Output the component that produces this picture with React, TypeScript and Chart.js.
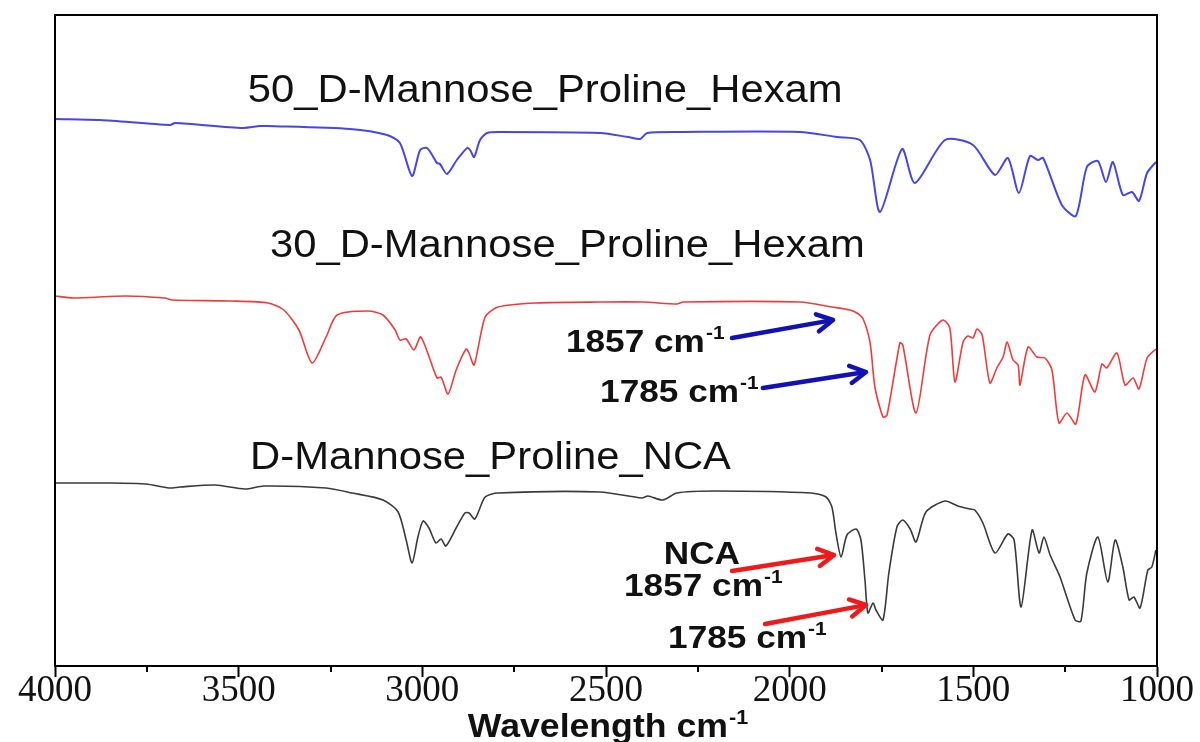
import React, { useEffect, useRef } from 'react';
import { Chart, registerables } from 'chart.js';

Chart.register(...registerables);

// ---------- data (wavenumber cm-1, transmittance a.u., curves offset) ----------
const wave50 = [4000, 3877, 3687, 3673, 3488, 3442, 3423, 3197, 3096, 3061, 3028, 3006, 2987, 2960, 2952, 2933, 2906, 2878, 2870, 2859, 2843, 2824, 2789, 2516, 2440, 2407, 2388, 2290, 1972, 1871, 1809, 1781, 1754, 1694, 1659, 1577, 1501, 1441, 1406, 1376, 1346, 1324, 1310, 1259, 1221, 1191, 1161, 1139, 1120, 1093, 1068, 1049, 1027, 1003];
const trans50 = [109.4, 109.2, 108.2, 108.6, 107.6, 108, 108, 107.4, 106.2, 104.6, 98, 103.2, 103.6, 100.6, 100.4, 98.4, 101.2, 103.6, 103.2, 101.8, 105.2, 106.6, 106.8, 106.6, 105.8, 105.4, 106.6, 106.8, 106.8, 105.8, 105.2, 101.2, 90.8, 103.4, 96.6, 105.2, 104.2, 98.2, 101.6, 94.6, 102, 101.2, 101.6, 92.2, 90, 99.8, 101, 96.8, 100.8, 94.2, 94.8, 93, 98.6, 100.8];

const wave30 = [4000, 3951, 3807, 3701, 3681, 3524, 3420, 3377, 3336, 3300, 3262, 3232, 3148, 3107, 3074, 3061, 3044, 3023, 3004, 2960, 2949, 2930, 2908, 2881, 2873, 2859, 2829, 2794, 2691, 2516, 2399, 2307, 2290, 1972, 1885, 1836, 1817, 1800, 1781, 1768, 1746, 1735, 1700, 1692, 1656, 1618, 1583, 1564, 1550, 1528, 1515, 1501, 1490, 1476, 1455, 1436, 1419, 1408, 1392, 1378, 1373, 1351, 1327, 1305, 1286, 1267, 1245, 1221, 1196, 1169, 1150, 1137, 1109, 1087, 1065, 1049, 1027, 1003];
const trans30 = [74, 73.6, 74, 73.6, 73.2, 73, 72.6, 71.2, 67.2, 60.6, 65.8, 70.2, 71, 70.2, 67.2, 65.2, 65.4, 63.2, 65.8, 57.6, 57.8, 54.4, 59.2, 63.4, 62.6, 60.2, 69.8, 71.8, 72.6, 72.8, 72.8, 72.4, 72.8, 72.8, 71.8, 71.2, 70.6, 69.4, 64.6, 55.8, 49.8, 50.2, 64.6, 64.2, 50.6, 66.2, 69.2, 67.6, 56.8, 64.8, 66, 65.6, 67.4, 66.2, 56.6, 59.6, 61.8, 64.8, 61.2, 60.2, 56.2, 63.8, 61.8, 61.6, 59.2, 48.6, 50.6, 48.4, 58.2, 54.8, 60.4, 59.6, 62.6, 56.2, 57.6, 55.4, 61.6, 63.4];

const waveNCA = [4000, 3858, 3752, 3690, 3660, 3564, 3483, 3431, 3262, 3191, 3107, 3066, 3044, 3028, 3012, 2998, 2982, 2963, 2949, 2936, 2908, 2884, 2873, 2857, 2829, 2794, 2516, 2402, 2386, 2345, 2307, 2203, 1942, 1901, 1885, 1874, 1860, 1844, 1819, 1806, 1795, 1787, 1773, 1765, 1746, 1730, 1708, 1692, 1672, 1656, 1629, 1577, 1542, 1509, 1496, 1474, 1441, 1406, 1389, 1370, 1340, 1321, 1308, 1291, 1264, 1223, 1207, 1191, 1161, 1134, 1114, 1093, 1076, 1063, 1046, 1025, 1014, 1003];
const transNCA = [36.6, 36.6, 36.4, 35.6, 35.8, 36.2, 35.4, 36, 35.6, 34.6, 33.2, 30.8, 25.2, 20.6, 25.8, 29, 27.6, 24.6, 25.4, 24, 27.6, 30.6, 30.6, 29.4, 33.8, 34.6, 34.8, 33.6, 34, 33.2, 34.6, 35, 34.6, 33.8, 31.8, 26.6, 21.8, 26.2, 27.4, 25.2, 17.2, 10.6, 12.6, 11.2, 9.2, 18.6, 27.8, 29.2, 27.4, 24.8, 30.8, 33, 32, 31.4, 31.2, 28.6, 22.6, 26.4, 25.2, 11.8, 27.2, 22.6, 25.8, 22.2, 17.8, 9.2, 9, 18.6, 25.8, 16.8, 25.2, 19.8, 13.2, 13.8, 11.6, 19.2, 19.8, 23.2];

const seriesNames = ['50_D-Mannose_Proline_Hexam', '30_D-Mannose_Proline_Hexam', 'D-Mannose_Proline_NCA'];
const seriesColors = ['#4646e6', '#ec3c3c', '#3a3a3a'];
const seriesLabelWave = [3475, 3415, 3469];
const seriesLabelTrans = [115.6, 84.6, 42.2];

const xMajorTicks = [4000, 3500, 3000, 2500, 2000, 1500, 1000];
const xMinorTicks = [3750, 3250, 2750, 2250, 1750, 1250];

// peak annotations
const annoTexts = ['1857 cm', '1785 cm', 'NCA', '1857 cm', '1785 cm'];
const annoSup = ['-1', '-1', '', '-1', '-1'];
const annoAlign = ['left', 'left', 'center', 'left', 'left'];
const annoWave = [2609, 2516, 2239, 2451, 2331];
const annoTrans = [65.2, 55.2, 22.8, 16.4, 6.0];

const arrowColors = ['#1212b4', '#1212b4', '#ee1a1a', '#ee1a1a'];
const arrowTailWave = [2157, 2073, 2157, 2067];
const arrowTailTrans = [65.6, 55.6, 19.0, 8.4];
const arrowTipWave = [1882, 1792, 1879, 1792];
const arrowTipTrans = [69.2, 58.8, 22.2, 12.2];

const SANS = "'Liberation Sans', Arial, 'Helvetica', sans-serif";
const SERIF = "'Liberation Serif', 'Times New Roman', serif";
const STRETCH = 1.1;

function drawStretched(ctx: CanvasRenderingContext2D, text: string, x: number, y: number, font: string, color: string, sx: number) {
  ctx.save();
  ctx.font = font;
  ctx.fillStyle = color;
  ctx.textAlign = 'left';
  ctx.textBaseline = 'alphabetic';
  ctx.translate(x, y);
  ctx.scale(sx, 1);
  ctx.fillText(text, 0, 0);
  ctx.restore();
}

function measure(ctx: CanvasRenderingContext2D, text: string, font: string, sx: number) {
  ctx.save();
  ctx.font = font;
  const w = ctx.measureText(text).width * sx;
  ctx.restore();
  return w;
}

// text with optional superscript; (x, cy) = anchor, cy is cap-centre
function drawSupText(ctx: CanvasRenderingContext2D, main: string, sup: string, x: number, cy: number, size: number, bold: boolean, align: string, sx: number) {
  const weight = bold ? 'bold ' : '';
  const f1 = `${weight}${size}px ${SANS}`;
  const supSize = Math.round(size * 0.6);
  const f2 = `${weight}${supSize}px ${SANS}`;
  const w1 = measure(ctx, main, f1, sx);
  const w2 = sup ? measure(ctx, sup, f2, sx) + 1 : 0;
  const total = w1 + w2;
  let x0 = x;
  if (align === 'center') x0 = x - total / 2;
  else if (align === 'right') x0 = x - total;
  const base = cy + size * 0.36;
  drawStretched(ctx, main, x0, base, f1, '#111', sx);
  if (sup) drawStretched(ctx, sup, x0 + w1 + 1, base - size * 0.38, f2, '#111', sx);
}

function drawArrow(ctx: CanvasRenderingContext2D, x1: number, y1: number, x2: number, y2: number, color: string) {
  const ang = Math.atan2(y2 - y1, x2 - x1);
  const head = 18;
  const spread = 0.5;
  ctx.save();
  ctx.strokeStyle = color;
  ctx.lineWidth = 4.5;
  ctx.lineCap = 'round';
  ctx.lineJoin = 'round';
  ctx.beginPath();
  ctx.moveTo(x1, y1);
  ctx.lineTo(x2 - Math.cos(ang) * 2, y2 - Math.sin(ang) * 2);
  ctx.stroke();
  ctx.beginPath();
  ctx.moveTo(x2 - head * Math.cos(ang - spread), y2 - head * Math.sin(ang - spread));
  ctx.lineTo(x2, y2);
  ctx.lineTo(x2 - head * Math.cos(ang + spread), y2 - head * Math.sin(ang + spread));
  ctx.stroke();
  ctx.restore();
}

const overlayPlugin = {
  id: 'overlay',
  afterDraw(chart: any) {
    const ctx: CanvasRenderingContext2D = chart.ctx;
    const a = chart.chartArea;
    const xs = chart.scales.x;
    const ys = chart.scales.y;
    ctx.save();
    // frame
    ctx.strokeStyle = '#000';
    ctx.lineWidth = 2;
    ctx.strokeRect(a.left, a.top, a.right - a.left, a.bottom - a.top);
    // minor ticks
    ctx.lineWidth = 2;
    for (const v of xMinorTicks) {
      const px = Math.round(xs.getPixelForValue(v));
      ctx.beginPath();
      ctx.moveTo(px, a.bottom);
      ctx.lineTo(px, a.bottom + 6);
      ctx.stroke();
    }
    ctx.restore();

    // series labels
    for (let i = 0; i < seriesNames.length; i++) {
      const px = xs.getPixelForValue(seriesLabelWave[i]);
      const py = ys.getPixelForValue(seriesLabelTrans[i]);
      drawSupText(ctx, seriesNames[i], '', px, py, 38, false, 'left', STRETCH);
    }
    // arrows
    for (let i = 0; i < arrowColors.length; i++) {
      drawArrow(
        ctx,
        xs.getPixelForValue(arrowTailWave[i]),
        ys.getPixelForValue(arrowTailTrans[i]),
        xs.getPixelForValue(arrowTipWave[i]),
        ys.getPixelForValue(arrowTipTrans[i]),
        arrowColors[i]
      );
    }
    // peak labels
    for (let i = 0; i < annoTexts.length; i++) {
      const px = xs.getPixelForValue(annoWave[i]);
      const py = ys.getPixelForValue(annoTrans[i]);
      drawSupText(ctx, annoTexts[i], annoSup[i], px, py, 32, true, annoAlign[i], STRETCH);
    }
    // axis title
    const cx = (a.left + a.right) / 2;
    drawSupText(ctx, 'Wavelength cm', '-1', cx + 2, 725, 33, true, 'center', 1.08);
  },
};

export default function App() {
  const canvasRef = useRef<HTMLCanvasElement | null>(null);

  useEffect(() => {
    if (!canvasRef.current) return;
    const mk = (w: number[], t: number[]) => w.map((v, i) => ({ x: v, y: t[i] }));
    const chart = new Chart(canvasRef.current, {
      type: 'line',
      data: {
        datasets: [
          { label: seriesNames[0], data: mk(wave50, trans50), borderColor: seriesColors[0], borderWidth: 2, pointRadius: 0, tension: 0.25, fill: false },
          { label: seriesNames[1], data: mk(wave30, trans30), borderColor: seriesColors[1], borderWidth: 1.6, pointRadius: 0, tension: 0.25, fill: false },
          { label: seriesNames[2], data: mk(waveNCA, transNCA), borderColor: seriesColors[2], borderWidth: 1.6, pointRadius: 0, tension: 0.25, fill: false },
        ],
      },
      options: {
        responsive: false,
        animation: false,
        events: [],
        layout: { padding: { left: 55, right: 43, top: 15, bottom: 0 } },
        plugins: { legend: { display: false }, tooltip: { enabled: false }, title: { display: false } },
        scales: {
          x: {
            type: 'linear',
            reverse: true,
            min: 1000,
            max: 4000,
            afterFit: (scale: any) => { scale.height = 76; },
            border: { display: true, color: '#000', width: 2 },
            grid: {
              display: true,
              drawOnChartArea: false,
              drawTicks: true,
              tickLength: 11,
              tickWidth: 2,
              tickColor: '#000',
            },
            afterBuildTicks: (scale: any) => {
              scale.ticks = xMajorTicks.map((v) => ({ value: v }));
            },
            ticks: {
              autoSkip: false,
              maxRotation: 0,
              padding: -4,
              color: '#111',
              font: { family: SERIF, size: 37, lineHeight: 1 },
              callback: (v: any) => String(v),
            },
          },
          y: {
            type: 'linear',
            display: false,
            min: 0,
            max: 130.2,
          },
        },
      },
      plugins: [overlayPlugin],
    });
    return () => chart.destroy();
  }, []);

  return (
    <div style={{ position: 'absolute', left: 0, top: 0, width: 1200, height: 742, background: '#fff' }}>
      <canvas ref={canvasRef} width={1200} height={742} style={{ display: 'block' }} />
    </div>
  );
}
